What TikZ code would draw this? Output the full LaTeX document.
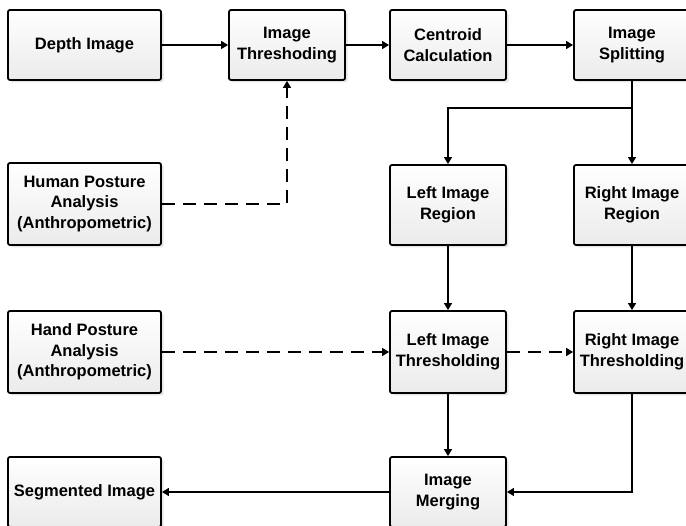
\documentclass[tikz,border=0pt]{standalone}
\usepackage{fontspec}
\setmainfont{Liberation Sans}
\usetikzlibrary{arrows.meta,shadows}

\tikzset{
  blk/.style={draw, line width=1.8pt, rounded corners=2pt, align=center,
    top color=white, bottom color=black!8,
    drop shadow={shadow xshift=2.5pt, shadow yshift=-2.5pt, opacity=0.2},
    minimum width=116pt, minimum height=70pt, inner sep=2pt,
    font=\fontsize{16.5}{20.5}\selectfont\bfseries},
  flow/.style={line width=1.4pt, -{Triangle[length=7pt,width=8pt]}},
  dflow/.style={flow, dash pattern=on 13pt off 8pt}
}

\begin{document}
\begin{tikzpicture}[x=1pt,y=-1pt]
\useasboundingbox (0,0) rectangle (686,526);

% top row
\node (depth) at (84.5,45) [blk, minimum width=153pt] {Depth Image};
\node (thresh) at (287,45) [blk] {Image\\Threshoding};
\node (centroid) at (448,45) [blk] {Centroid\\Calculation};
\node (split) at (632,45) [blk] {Image\\Splitting};

% second row
\node (human) at (84.5,204) [blk, minimum width=153pt, minimum height=82pt] {Human Posture\\Analysis\\(Anthropometric)};
\node (leftreg) at (448,205) [blk, minimum height=80pt] {Left Image\\Region};
\node (rightreg) at (632,205) [blk, minimum height=80pt] {Right Image\\Region};

% third row
\node (hand) at (84.5,352) [blk, minimum width=153pt, minimum height=82pt] {Hand Posture\\Analysis\\(Anthropometric)};
\node (leftthr) at (448,352) [blk, minimum height=82pt] {Left Image\\Thresholding};
\node (rightthr) at (632,352) [blk, minimum height=82pt] {Right Image\\Thresholding};

% bottom row
\node (segm) at (84.5,492) [blk, minimum width=153pt] {Segmented Image};
\node (merge) at (448,492) [blk] {Image\\Merging};

% main chain
\draw[flow] (depth) -- (thresh);
\draw[flow] (thresh) -- (centroid);
\draw[flow] (centroid) -- (split);

% split into two regions
\coordinate (fork) at (632,108);
\draw[line width=1.4pt] (split) -- (fork);
\draw[flow] (fork) -| (leftreg.north);
\draw[flow] (fork) -- (rightreg);

% anthropometric inputs
\draw[dflow] (human.east) -| (thresh.south);
\draw[dflow] (hand) -- (leftthr);
\draw[dflow] (leftthr) -- (rightthr);

\draw[flow] (leftreg) -- (leftthr);
\draw[flow] (rightreg) -- (rightthr);

% merging
\draw[flow] (leftthr) -- (merge);
\draw[flow] (rightthr.south) |- (merge.east);
\draw[flow] (merge) -- (segm);

\end{tikzpicture}
\end{document}
